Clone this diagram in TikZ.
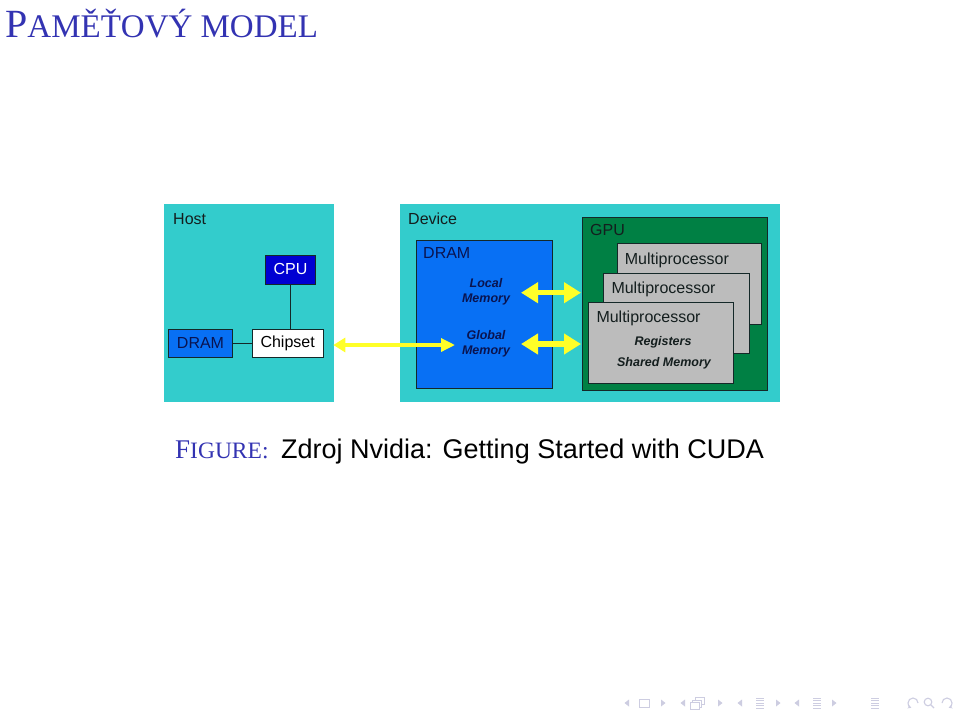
\documentclass[tikz,border=0pt]{standalone}
\usepackage{fontspec}
\setmainfont{Liberation Serif}
\newfontfamily\arial{Liberation Sans}
\usetikzlibrary{arrows.meta}
\definecolor{struct}{RGB}{51,51,178}
\definecolor{cyanbg}{RGB}{51,204,204}
\definecolor{dramblue}{RGB}{8,112,244}
\definecolor{cpublue}{RGB}{0,0,210}
\definecolor{gpugreen}{RGB}{0,128,68}
\definecolor{mpgrey}{RGB}{188,188,188}
\definecolor{navytxt}{RGB}{10,20,80}
\definecolor{darktxt}{RGB}{20,30,30}
\definecolor{boxline}{RGB}{20,40,40}
\definecolor{arrowyel}{RGB}{255,255,40}
\definecolor{navc}{RGB}{205,205,225}
\tikzset{
  area/.style={fill=cyanbg, draw=none, inner sep=0, anchor=north west},
  box/.style={draw=boxline, line width=0.9pt, inner sep=0, anchor=north west},
  lbl/.style={font=\arial\fontsize{16}{16}\selectfont, inner sep=0, anchor=north west, text=darktxt},
  memtxt/.style={font=\arial\bfseries\itshape\fontsize{12.5}{15}\selectfont, inner sep=0, align=center, text=navytxt},
  mptxt/.style={font=\arial\bfseries\itshape\fontsize{12.5}{15}\selectfont, inner sep=0, align=center, text=darktxt},
  wire/.style={draw=boxline, line width=0.9pt},
  thinarrow/.style={draw=arrowyel, line width=3.3pt, {Triangle[length=12pt,width=14pt]}-{Triangle[length=14pt,width=13pt]}},
  fatarrow/.style={draw=arrowyel, line width=5.5pt, {Triangle[length=17pt,width=20pt]}-{Triangle[length=17pt,width=20pt]}},
  navsym/.style={fill=navc, draw=none},
  navline/.style={draw=navc, line width=0.9pt}
}
\begin{document}
\begin{tikzpicture}[x=1pt,y=-1pt]
\useasboundingbox[fill=white] (0,0) rectangle (960,718);

% Title
\node[anchor=base west, inner sep=0, text=struct] (title) at (5,37)
  {\fontsize{40}{40}\selectfont P\fontsize{33}{33}\selectfont AMĚŤOVÝ MODEL};

% Host area
\node[area, minimum width=170pt, minimum height=198pt] (host) at (164,204) {};
\node[lbl] (hostlbl) at (173,213) {Host};
\node[box, fill=cpublue, minimum width=50pt, minimum height=29pt, text=white,
      font=\arial\fontsize{16}{16}\selectfont] (cpu) at (265,254.5) {CPU};
\node[box, fill=dramblue, minimum width=63.5pt, minimum height=27.5pt, text=navytxt,
      font=\arial\fontsize{16}{16}\selectfont] (hdram) at (168.3,329) {DRAM};
\node[box, fill=white, minimum width=71pt, minimum height=27.5pt, text=black,
      font=\arial\fontsize{16}{16}\selectfont] (chip) at (251.7,329) {Chipset};
\draw[wire] (hdram.east) -- (chip.west);
\draw[wire] (cpu.south) -- (cpu.south |- chip.north);

% Device area
\node[area, minimum width=380pt, minimum height=198pt] (dev) at (400,204) {};
\node[lbl] (devlbl) at (408,213) {Device};
\node[box, fill=dramblue, minimum width=136pt, minimum height=148pt] (ddram) at (415.7,240) {};
\node[lbl, text=navytxt] (ddramlbl) at (423,247) {DRAM};
\node[memtxt] (local) at (486,292) {Local\\Memory};
\node[memtxt] (global) at (486,343.5) {Global\\Memory};

% GPU
\node[box, fill=gpugreen, minimum width=185pt, minimum height=173pt] (gpu) at (582.3,216.7) {};
\node[lbl] (gpulbl) at (590,224) {GPU};
\node[box, fill=mpgrey, minimum width=144.5pt, minimum height=80.5pt] (mp3) at (616.7,243.3) {};
\node[lbl] (mp3lbl) at ([shift={(8,9)}]mp3.north west) {Multiprocessor};
\node[box, fill=mpgrey, minimum width=145.5pt, minimum height=80.5pt] (mp2) at (603.3,272.7) {};
\node[lbl] (mp2lbl) at ([shift={(8,9)}]mp2.north west) {Multiprocessor};
\node[box, fill=mpgrey, minimum width=145pt, minimum height=80.5pt] (mp1) at (588.3,302.3) {};
\node[lbl] (mp1lbl) at ([shift={(8,8)}]mp1.north west) {Multiprocessor};
\node[mptxt] (regs) at (663,342) {Registers};
\node[mptxt] (shm) at (664,363.5) {Shared Memory};

% Arrows
\coordinate (la) at (521,292.7);
\coordinate (lb) at (581,292.7);
\coordinate (ga) at (521,344);
\coordinate (gb) at (581,344);
\draw[fatarrow] (la) -- (lb);
\draw[fatarrow] (ga) -- (gb);
\coordinate (ctip) at (333.3,345);
\coordinate (gtip) at (455,345);
\draw[thinarrow] (ctip) -- (gtip);

% Caption
\node[anchor=base west, inner sep=0, text=struct] (figlbl) at (175,458)
  {\fontsize{27}{27}\selectfont F\fontsize{23.5}{23.5}\selectfont IGURE:};
\node[anchor=base west, inner sep=0, font=\arial\fontsize{27}{27}\selectfont] (cap) at (281,458)
  {Zdroj Nvidia: Getting Started with CUDA};

% Navigation symbols
\foreach \x in {627,683,740,797} {
  \fill[navsym] (\x+2,699.5) -- (\x-2.5,703) -- (\x+2,706.5) -- cycle;
}
\foreach \x in {663,720,778,834} {
  \fill[navsym] (\x-2,699.5) -- (\x+2.5,703) -- (\x-2,706.5) -- cycle;
}
\draw[navline] (639,699) rectangle (649,707);
\draw[navline, fill=white] (695,697.5) rectangle (704,704.5);
\draw[navline, fill=white] (692.5,700) rectangle (701.5,707);
\draw[navline, fill=white] (690,702.5) rectangle (699,709.5);
\foreach \x in {760,817,875} {
  \foreach \yy in {698,700.5,703,705.5,708} {
    \draw[navline, line width=0.7pt] (\x-4,\yy) -- (\x+4,\yy);
  }
}
\draw[navline, line width=1.1pt, -{Stealth[length=3.5pt,width=4pt]}] (918,703) arc[start angle=0, end angle=-250, radius=5];
\draw[navline, line width=1.1pt] (928,702) circle[radius=3.8];
\draw[navline, line width=1.1pt] (930.7,704.7) -- (934,708);
\draw[navline, line width=1.1pt, -{Stealth[length=3.5pt,width=4pt]}] (942,703) arc[start angle=180, end angle=430, radius=5];
\end{tikzpicture}
\end{document}
